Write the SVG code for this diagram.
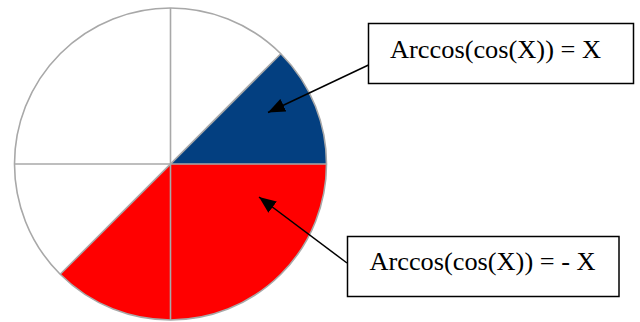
<svg xmlns="http://www.w3.org/2000/svg" width="640" height="322" viewBox="0 0 640 322">
<style>
.grid{stroke:#a8a8a8;stroke-width:1.6;fill:none}
.box{fill:#fff;stroke:#000;stroke-width:1.5}
.lbl{font-family:"Liberation Serif","Times New Roman",serif;font-size:25px;fill:#000}
.conn{stroke:#000;stroke-width:1.5;fill:none;marker-end:url(#ah)}
</style>
<defs>
<marker id="ah" markerUnits="userSpaceOnUse" markerWidth="18" markerHeight="14" viewBox="0 0 18 14" refX="17" refY="7" orient="auto">
<path d="M0,0 L17,7 L0,14 Z" fill="#000"/>
</marker>
</defs>
<rect width="640" height="322" fill="#fff"/>
<g id="pie">
<circle cx="170.5" cy="164" r="156" fill="#fff"/>
<path d="M170.5,164 L326.5,164 A156,156 0 0 0 280.8,53.7 Z" fill="#033f80"/>
<path d="M170.5,164 L326.5,164 A156,156 0 0 1 60.2,274.3 Z" fill="#ff0000"/>
<circle cx="170.5" cy="164" r="156" class="grid"/>
<line x1="170.5" y1="8" x2="170.5" y2="320" class="grid"/>
<line x1="14.5" y1="164" x2="326.5" y2="164" class="grid"/>
<line x1="280.8" y1="53.7" x2="60.2" y2="274.3" class="grid"/>
</g>
<g id="connectors">
<line x1="368.5" y1="65" x2="268" y2="112.5" class="conn"/>
<line x1="347" y1="263" x2="259" y2="197" class="conn"/>
</g>
<g id="label1">
<rect x="368.5" y="23.5" width="265" height="60" class="box"/>
<text x="390" y="57.5" class="lbl" textLength="211" lengthAdjust="spacingAndGlyphs">Arccos(cos(X)) = X</text>
</g>
<g id="label2">
<rect x="347.5" y="236.5" width="271.5" height="60" class="box"/>
<text x="369.5" y="270" class="lbl" textLength="226" lengthAdjust="spacingAndGlyphs">Arccos(cos(X)) = - X</text>
</g>
</svg>
